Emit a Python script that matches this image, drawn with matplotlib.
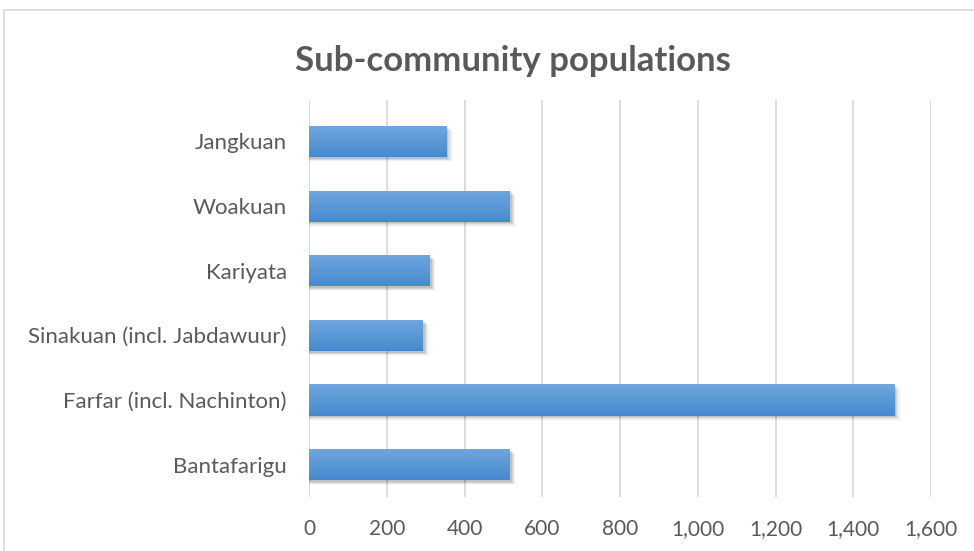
import numpy as np
import matplotlib
matplotlib.use('Agg')
import matplotlib.pyplot as plt
from matplotlib.patches import Rectangle
from matplotlib.ticker import FuncFormatter

# sub-community population counts (bottom to top as drawn)
communities = ['Bantafarigu', 'Farfar (incl. Nachinton)', 'Sinakuan (incl. Jabdawuur)',
               'Kariyata', 'Woakuan', 'Jangkuan']
populations = [517, 1505, 293, 311, 517, 353]
x_ticks = [0, 200, 400, 600, 800, 1000, 1200, 1400, 1600]

plt.rcParams['font.family'] = ['Lato', 'DejaVu Sans']
text_color = '#595959'

fig = plt.figure(figsize=(9.74, 5.51), dpi=100)
ax = fig.add_axes([309 / 974, 1 - 497 / 551, 622 / 974, 397 / 551])

bar_h = 0.48
ypos = np.arange(len(communities))

# vertical gradient used to fill each bar
grad = np.linspace(0, 1, 64).reshape(-1, 1)
top_rgb = np.array([0x70, 0xA8, 0xDF]) / 255
bot_rgb = np.array([0x45, 0x89, 0xCE]) / 255
grad_img = (top_rgb * (1 - grad[:, :, None]) + bot_rgb * grad[:, :, None])

for y, v in zip(ypos, populations):
    # soft drop shadow
    for k, a in enumerate([0.09, 0.07, 0.05, 0.035, 0.02]):
        off = 5 + k * 3
        ax.add_patch(Rectangle((0, y - bar_h / 2 - 0.03 - k * 0.012), v + off, bar_h,
                               facecolor='black', alpha=a, edgecolor='none', zorder=2))
    bars = ax.barh(y, v, height=bar_h, color='none', edgecolor='none', zorder=3)
    im = ax.imshow(grad_img, extent=[0, v, y - bar_h / 2, y + bar_h / 2],
                   aspect='auto', origin='upper', zorder=3)
    im.set_clip_path(bars[0])

ax.set_xlim(0, 1600)
ax.set_ylim(-0.5, 5.64)
ax.set_xticks(x_ticks)
ax.xaxis.set_major_formatter(FuncFormatter(lambda v, p: f'{int(v):,}'))
ax.set_yticks(ypos)
ax.set_yticklabels(communities)
ax.tick_params(axis='both', length=0, colors=text_color)
ax.tick_params(axis='x', pad=16, labelsize=15)
ax.tick_params(axis='y', pad=16, labelsize=16)
ax.grid(axis='x', color='#D9D9D9', linewidth=1.3, zorder=0)
ax.set_axisbelow(True)
for s in ax.spines.values():
    s.set_visible(False)

fig.text(513 / 974, 1 - 61 / 551, 'Sub-community populations', ha='center', va='center',
         fontsize=25, fontweight='bold', color=text_color)

# chart area border
fig.patches.append(Rectangle((4 / 974, -0.05), 1.1, 1 - 10 / 551 + 0.05,
                             transform=fig.transFigure, facecolor='none',
                             edgecolor='#D9D9D9', linewidth=1.2))

fig.savefig('out.png', dpi=100)
